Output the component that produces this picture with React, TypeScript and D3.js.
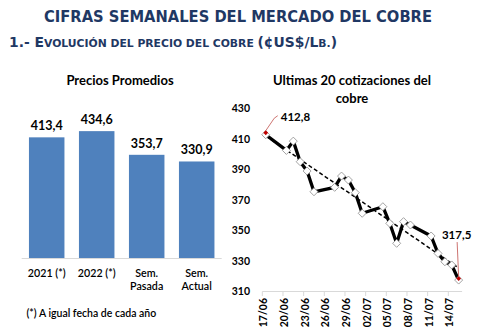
import React from "react";
import * as d3 from "d3";

const barCategories: string[][] = [["2021 (*)"], ["2022 (*)"], ["Sem.", "Pasada"], ["Sem.", "Actual"]];
const barValues: number[] = [413.4, 434.6, 353.7, 330.9];
const barLabels: string[] = ["413,4", "434,6", "353,7", "330,9"];

const quoteDates: string[] = [
  "2022-06-17", "2022-06-20", "2022-06-21", "2022-06-22", "2022-06-23", "2022-06-24",
  "2022-06-27", "2022-06-28", "2022-06-29", "2022-06-30", "2022-07-01",
  "2022-07-04", "2022-07-05", "2022-07-06", "2022-07-07", "2022-07-08",
  "2022-07-11", "2022-07-12", "2022-07-13", "2022-07-14", "2022-07-15",
];
const quoteValues: number[] = [
  412.8, 402.5, 408.6, 395.1, 389.0, 375.4,
  378.3, 385.7, 383.1, 374.8, 361.3,
  365.6, 354.7, 341.6, 355.8, 353.6,
  346.4, 335.0, 329.5, 327.4, 317.5,
];
const yTicks: number[] = [310, 330, 350, 370, 390, 410, 430];
const firstLabel = "412,8";
const lastLabel = "317,5";

const FONT = "Lato, 'Open Sans', sans-serif";
const NAVY = "#1F3864";

export default function App() {
  // ---- bar chart ----
  const xb = d3.scaleBand<number>().domain(barValues.map((_, i) => i)).range([21.7, 221.7]).paddingInner(0.29).paddingOuter(0.145);
  const yb = d3.scaleLinear().domain([0, 500]).range([258.3, 112]);

  // ---- line chart ----
  const parse = d3.utcParse("%Y-%m-%d");
  const dates = quoteDates.map((d) => parse(d) as Date);
  const start = dates[0];
  const end = d3.utcDay.offset(dates[dates.length - 1], 1);
  const xt = d3.scaleUtc().domain([start, end]).range([262.3, 462.1]);
  const yl = d3.scaleLinear().domain([310, 430]).range([291.5, 108.5]);
  const mid = (d: Date) => d3.utcHour.offset(d, 12);
  const pts: [number, number][] = dates.map((d, i) => [xt(mid(d)), yl(quoteValues[i])]);
  const line = d3.line<[number, number]>()(pts) || "";
  const ticks = d3.utcDay.range(start, end, 3);
  const fmt = d3.utcFormat("%d/%m");

  // linear regression (trendline) on date values
  const xs = dates.map((d) => +mid(d));
  const mx = d3.mean(xs) as number;
  const my = d3.mean(quoteValues) as number;
  let sxy = 0, sxx = 0;
  xs.forEach((x, i) => { sxy += (x - mx) * (quoteValues[i] - my); sxx += (x - mx) * (x - mx); });
  const slope = sxy / sxx;
  const icpt = my - slope * mx;
  const tx0 = xs[0], tx1 = xs[xs.length - 1];
  const trend = `M${xt(new Date(tx0))},${yl(icpt + slope * tx0)}L${xt(new Date(tx1))},${yl(icpt + slope * tx1)}`;

  const diamond = (x: number, y: number, r: number) => `M${x},${y - r}L${x + r},${y}L${x},${y + r}L${x - r},${y}Z`;
  const p0 = pts[0];
  const pn = pts[pts.length - 1];

  return (
    <svg width={487} height={333} style={{ position: "absolute", left: 0, top: 0, background: "#fff" }} fontFamily={FONT}>
      {/* headings */}
      <text x={238} y={22.2} textAnchor="middle" fontFamily="'DejaVu Sans', sans-serif" fontWeight="bold" fontSize={15} fill={NAVY} textLength={388} lengthAdjust="spacingAndGlyphs">
        CIFRAS SEMANALES DEL MERCADO DEL COBRE
      </text>
      <text x={9} y={46.5} fontFamily="'DejaVu Sans', sans-serif" fontWeight="bold" fill={NAVY} textLength={328} lengthAdjust="spacingAndGlyphs">
        <tspan fontSize={13.5}>1.- E</tspan>
        <tspan fontSize={10.5}>VOLUCIÓN DEL PRECIO DEL COBRE </tspan>
        <tspan fontSize={13.5}>(¢US$/L</tspan>
        <tspan fontSize={10.5}>B.</tspan>
        <tspan fontSize={13.5}>)</tspan>
      </text>

      {/* bar chart */}
      <text x={120} y={85} textAnchor="middle" fontWeight="bold" fontSize={13} fill="#000">Precios Promedios</text>
      {barValues.map((v, i) => (
        <g key={i}>
          <rect x={xb(i)} y={yb(v)} width={xb.bandwidth()} height={yb(0) - yb(v)} fill="#4F81BD" />
          <text x={(xb(i) as number) + xb.bandwidth() / 2} y={yb(v) - 7} textAnchor="middle" fontWeight="bold" fontSize={12.5} fill="#000">{barLabels[i]}</text>
          {barCategories[i].map((t, j) => (
            <text key={j} x={(xb(i) as number) + xb.bandwidth() / 2} y={276.5 + j * 13.5} textAnchor="middle" fontSize={10.7} fontWeight={600} fill="#000">{t}</text>
          ))}
        </g>
      ))}
      <line x1={21.7} x2={221.7} y1={258.5} y2={258.5} stroke="#D9D9D9" strokeWidth={1} />
      <text x={26.5} y={317} fontSize={10.5} fontWeight={600} fill="#000">(*) A igual fecha de cada año</text>

      {/* line chart */}
      <text x={352} y={85} textAnchor="middle" fontWeight="bold" fontSize={13} fill="#000">Ultimas 20 cotizaciones del</text>
      <text x={352} y={103} textAnchor="middle" fontWeight="bold" fontSize={13} fill="#000">cobre</text>
      {yTicks.map((t) => (
        <text key={t} x={250} y={yl(t) + 3.8} textAnchor="end" fontSize={10.5} fontWeight="bold" fill="#000">{t}</text>
      ))}
      <line x1={262.3} x2={462.1} y1={291.5} y2={291.5} stroke="#D9D9D9" strokeWidth={1} />
      {ticks.map((t, i) => (
        <g key={i}>
          <line x1={xt(t)} x2={xt(t)} y1={291.5} y2={296} stroke="#D9D9D9" strokeWidth={1} />
          <text transform={`translate(${xt(t) + 2.3},298) rotate(-90)`} textAnchor="end" dominantBaseline="middle" fontSize={10.5} fontWeight="bold" fill="#000">{fmt(t)}</text>
        </g>
      ))}
      <path d={line} fill="none" stroke="#000" strokeWidth={3.3} strokeLinejoin="round" />
      <path d={trend} fill="none" stroke="#000" strokeWidth={1.5} strokeDasharray="4,2.5" />
      {pts.map((p, i) => (
        <path key={i} d={diamond(p[0], p[1], 4)} fill="#fff" stroke="#8c8c8c" strokeWidth={0.8} />
      ))}
      <path d={diamond(p0[0], p0[1] - 2, 2.4)} fill="#C00000" />
      <path d={diamond(pn[0], pn[1] - 1.5, 2.4)} fill="#C00000" />
      {/* annotations */}
      <path d={`M${p0[0]},${p0[1] - 4}L${p0[0] + 8.5},${p0[1] - 16.5}L${p0[0] + 12},${p0[1] - 19}`} fill="none" stroke="#C0504D" strokeWidth={0.8} />
      <text x={p0[0] + 15} y={p0[1] - 14} fontWeight="bold" fontSize={11.5} fill="#000">{firstLabel}</text>
      <path d={`M${pn[0] - 1.5},${pn[1] - 38}L${pn[0]},${pn[1] - 3}`} fill="none" stroke="#C0504D" strokeWidth={0.8} />
      <text x={pn[0] - 2} y={pn[1] - 41} textAnchor="middle" fontWeight="bold" fontSize={11.5} fill="#000">{lastLabel}</text>
    </svg>
  );
}
